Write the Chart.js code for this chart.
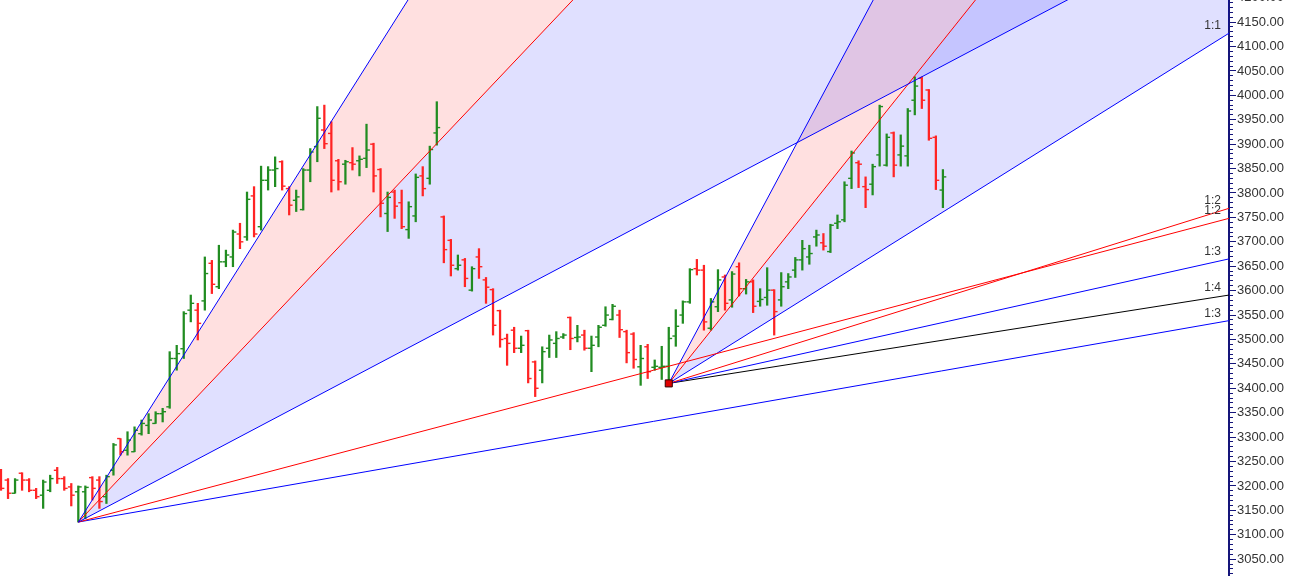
<!DOCTYPE html>
<html>
<head>
<meta charset="utf-8">
<script src="https://cdn.jsdelivr.net/npm/chart.js@4.4.1/dist/chart.umd.min.js"></script>
<style>
html, body { margin: 0; padding: 0; background: #fff; }
</style>
</head>
<body>
<canvas id="gannChart" width="1292" height="576"></canvas>
<script>
// OHLC bars, one per session (index 0..134)
const opens = [3229,3212,3185,3226,3212,3191,3181,3191,3232,3215,
  3198,3188,3188,3217,3212,3178,3232,3297,3273,3270,
  3307,3324,3328,3348,3362,3461,3481,3560,3560,3579,
  3656,3608,3659,3669,3716,3710,3794,3731,3826,3847,
  3864,3809,3785,3766,3847,3895,3929,3922,3866,3859,
  3862,3866,3871,3900,3848,3758,3802,3780,3725,3753,
  3835,3830,3923,3751,3703,3645,3663,3601,3669,3622,
  3602,3559,3502,3519,3482,3518,3454,3437,3482,3492,
  3505,3545,3504,3509,3482,3505,3529,3541,3550,3516,
  3511,3444,3485,3443,3443,3445,3507,3550,3577,3645,
  3642,3523,3567,3628,3581,3649,3604,3618,3578,3586,
  3601,3581,3618,3642,3663,3669,3710,3698,3680,3738,
  3745,3830,3862,3813,3818,3878,3857,3923,3878,3876,
  3990,4035,4011,3914,3806];
const highs = [3234,3215,3215,3227,3215,3195,3212,3222,3238,3219,
  3205,3200,3200,3219,3219,3222,3287,3297,3311,3321,
  3335,3348,3352,3359,3475,3488,3557,3591,3574,3669,
  3662,3693,3683,3724,3738,3802,3813,3855,3854,3874,
  3866,3813,3806,3850,3891,3977,3980,3946,3869,3867,
  3893,3876,3941,3902,3850,3802,3806,3806,3782,3839,
  3854,3896,3987,3753,3705,3673,3666,3649,3686,3627,
  3604,3560,3511,3525,3507,3519,3456,3485,3509,3516,
  3512,3546,3529,3519,3507,3529,3567,3572,3560,3519,
  3514,3488,3490,3458,3486,3525,3561,3579,3645,3664,
  3652,3584,3643,3632,3639,3657,3623,3622,3604,3647,
  3602,3637,3635,3668,3703,3693,3724,3717,3736,3755,
  3823,3886,3866,3833,3859,3980,3921,3925,3919,3973,
  4038,4038,4012,3917,3848];
const lows = [3191,3174,3185,3191,3188,3174,3154,3188,3205,3191,
  3159,3126,3133,3171,3154,3164,3222,3263,3263,3270,
  3304,3307,3328,3331,3359,3437,3461,3536,3499,3560,
  3594,3604,3649,3649,3686,3703,3710,3724,3806,3813,
  3806,3755,3762,3765,3823,3864,3891,3802,3806,3818,
  3847,3835,3852,3802,3751,3721,3748,3727,3707,3741,
  3794,3818,3898,3657,3630,3642,3608,3599,3625,3574,
  3509,3484,3447,3473,3473,3411,3383,3411,3463,3463,
  3502,3479,3495,3478,3434,3485,3527,3540,3504,3452,
  3441,3406,3420,3437,3418,3410,3486,3533,3574,3632,
  3519,3519,3557,3560,3566,3589,3593,3555,3568,3570,
  3509,3568,3604,3627,3642,3654,3691,3683,3678,3727,
  3741,3809,3811,3770,3796,3855,3855,3833,3855,3855,
  3960,3973,3908,3807,3770];
const closes = [3195,3185,3212,3212,3191,3178,3208,3215,3215,3195,
  3181,3198,3197,3195,3168,3219,3284,3270,3294,3314,
  3328,3335,3348,3352,3461,3471,3553,3574,3533,3635,
  3613,3659,3673,3720,3700,3787,3716,3826,3847,3850,
  3814,3775,3792,3847,3884,3953,3901,3826,3823,3864,
  3859,3869,3888,3835,3779,3791,3773,3731,3772,3832,
  3809,3889,3934,3684,3652,3652,3625,3645,3649,3607,
  3529,3500,3492,3482,3488,3420,3400,3475,3499,3502,
  3509,3502,3505,3482,3488,3525,3550,3568,3520,3473,
  3459,3461,3434,3445,3445,3502,3527,3577,3643,3642,
  3536,3577,3622,3574,3634,3604,3618,3568,3582,3601,
  3557,3608,3628,3663,3686,3676,3714,3691,3734,3741,
  3816,3882,3859,3807,3854,3977,3914,3857,3896,3968,
  4019,3990,3912,3826,3833];

// Gann fans: origin [bar index, price], ratio names, slope in price per bar
const fanOrigins = [[11, 3126], [95, 3410]];
const fanRatios = [['3:1', '2:1', '1:1', '1:2', '1:3'],
                   ['3:1', '2:1', '1:1', '1:2', '1:3', '1:4']];
const fanSlopes = [[22.8, 15.2, 7.6, 3.8, 2.52],
                   [27, 18, 9.0, 4.5, 3.2, 2.27]];
const selectedFan = 1;

const yMin = 3015.5;
const yMax = 4195.3;
const yStep = 10;
const yLabelStep = 50;
const xMin = -0.14;
const xMax = 174.7;

const upColor = '#218c21';
const downColor = '#ff2424';
const lineColors = { '3:1': '#0000ff', '2:1': '#ff0000', '1:1': '#0000ff', '1:2': '#ff0000', '1:3': '#0000ff', '1:4': '#000000' };
const pinkFill = 'rgba(255,0,0,0.12)';
const blueFill = 'rgba(0,0,255,0.12)';

const barColors = opens.map((o, i) => closes[i] >= o ? upColor : downColor);
const TICK_OFF = 0.24;

const datasets = [];

fanOrigins.forEach((o, f) => {
  fanSlopes[f].forEach((s, k) => {
    const r = fanRatios[f][k];
    let fill = false, bg = 'transparent';
    if (r === '3:1') { fill = '+1'; bg = pinkFill; }
    if (r === '2:1') { fill = '+1'; bg = blueFill; }
    datasets.push({
      type: 'line',
      data: [{ x: o[0], y: o[1] }, { x: xMax, y: o[1] + s * (xMax - o[0]) }],
      borderColor: lineColors[r],
      borderWidth: 1,
      backgroundColor: bg,
      fill: fill,
      pointRadius: 0,
      tension: 0,
      order: 0
    });
  });
});

datasets.push({
  type: 'bar',
  data: opens.map((o, i) => ({ x: i, y: [lows[i], highs[i]] })),
  backgroundColor: barColors,
  borderWidth: 0,
  barThickness: 1.6,
  grouped: false,
  order: 2
});
datasets.push({
  type: 'scatter',
  data: opens.map((o, i) => ({ x: i - TICK_OFF, y: o })),
  pointStyle: 'line',
  pointRadius: 1.7,
  pointBorderWidth: 1.4,
  pointBorderColor: barColors,
  order: 2
});
datasets.push({
  type: 'scatter',
  data: closes.map((c, i) => ({ x: i + TICK_OFF, y: c })),
  pointStyle: 'line',
  pointRadius: 1.7,
  pointBorderWidth: 1.4,
  pointBorderColor: barColors,
  order: 2
});
datasets.push({
  type: 'scatter',
  data: [{ x: fanOrigins[selectedFan][0], y: fanOrigins[selectedFan][1] }],
  pointStyle: 'rect',
  pointRadius: 5,
  pointBackgroundColor: '#e00000',
  pointBorderColor: '#300000',
  pointBorderWidth: 1,
  order: -1
});

// ratio names at the right end of each fan line, plus the half-cut top price label
const fanLabels = {
  id: 'fanLabels',
  afterDraw(chart) {
    const { ctx, chartArea, scales } = chart;
    ctx.save();
    ctx.font = '12px "Liberation Sans", Arial, sans-serif';
    ctx.fillStyle = '#333';
    ctx.textAlign = 'right';
    ctx.textBaseline = 'alphabetic';
    fanOrigins.forEach((o, f) => {
      fanSlopes[f].forEach((s, k) => {
        const py = scales.y.getPixelForValue(o[1] + s * (xMax - o[0]));
        if (py > chartArea.top + 14 && py < chartArea.bottom) {
          ctx.fillText(fanRatios[f][k], chartArea.right - 8, py - 4);
        }
      });
    });
    const topVal = Math.ceil(yMax / yLabelStep) * yLabelStep;
    const ty = scales.y.getPixelForValue(topVal);
    ctx.font = '13px "Liberation Sans", Arial, sans-serif';
    ctx.textAlign = 'left';
    ctx.textBaseline = 'middle';
    ctx.fillText(topVal.toFixed(2), scales.y.left + 8, ty);
    ctx.restore();
  }
};

new Chart(document.getElementById('gannChart'), {
  type: 'scatter',
  data: { datasets },
  plugins: [fanLabels],
  options: {
    responsive: false,
    animation: false,
    events: [],
    layout: { padding: 0, autoPadding: false },
    plugins: {
      legend: { display: false },
      tooltip: { enabled: false },
      filler: { drawTime: 'beforeDatasetsDraw' }
    },
    scales: {
      x: { type: 'linear', min: xMin, max: xMax, offset: false, display: false },
      y: {
        type: 'linear',
        position: 'right',
        min: yMin,
        max: yMax,
        afterFit: (s) => { s.width = 63; s.paddingTop = 0; s.paddingBottom = 0; },
        border: { display: true, color: '#15157a', width: 2 },
        grid: {
          drawOnChartArea: false,
          tickLength: 7,
          tickWidth: 1,
          tickColor: '#15157a',
          tickBorderDash: (ctx) => (Math.round(ctx.tick.value) % yLabelStep === 0 ? [] : [3, 20])
        },
        ticks: {
          stepSize: yStep,
          autoSkip: false,
          includeBounds: false,
          padding: 1,
          color: '#333',
          font: { family: '"Liberation Sans", Arial, sans-serif', size: 13 },
          callback: (v) => (Math.round(v) % yLabelStep === 0 ? v.toFixed(2) : '')
        }
      }
    }
  }
});
</script>
</body>
</html>
